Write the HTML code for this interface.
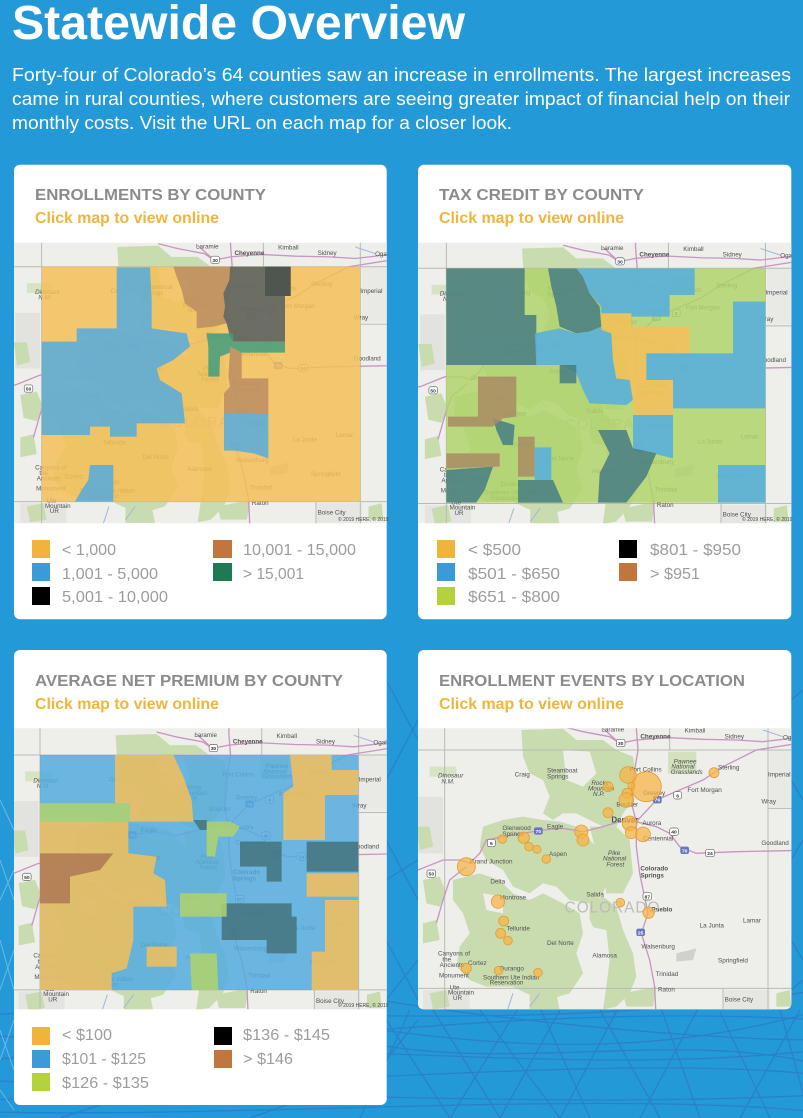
<!DOCTYPE html>
<html><head><meta charset="utf-8"><style>html,body{margin:0;padding:0;background:#2399d7;}svg{display:block}</style></head>
<body>
<svg width="803" height="1118" viewBox="0 0 803 1118" xmlns="http://www.w3.org/2000/svg" xmlns:xlink="http://www.w3.org/1999/xlink" font-family="'Liberation Sans', sans-serif">
<defs>
<clipPath id="c1"><rect x="14" y="242.7" width="372.7" height="280.6"/></clipPath>
<clipPath id="c2"><rect x="418" y="242.7" width="373.3" height="280.6"/></clipPath>
<clipPath id="c3"><rect x="14" y="728.3" width="372.7" height="281"/></clipPath>
<clipPath id="c4"><path d="M418,728.3 H791.3 V1003.3 Q791.3,1009.3 785.3,1009.3 H424 Q418,1009.3 418,1003.3 Z"/></clipPath>
<g id="base">
<rect x="-100" y="150" width="1400" height="1100" fill="#eeeeeb"/>
<path d="M45,470 H120 V640 H45 Z" fill="#e2e2df"/>
<path d="M60,1050 H200 V1110 H60 Z" fill="#e4e4e1"/>
<path d="M960,1050 H1100 V1110 H960Z" fill="#e6e6e3"/>
<path d="M1100,330 H1200 V500 H1100Z" fill="#e9e9e6"/>
<g fill="#c9dcb0">
<path d="M355,270 L480,266 L520,300 L600,300 L640,330 L690,350 L700,420 L690,480 L660,520 L640,560 L600,560 L560,540 L520,520 L480,520 L450,540 L420,520 L440,470 L420,420 L380,400 L360,350 Z"/>
<path d="M240,560 L300,540 L360,530 L420,540 L470,545 L520,560 L560,600 L600,640 L620,700 L600,760 L560,790 L500,780 L460,740 L420,730 L380,760 L330,740 L300,690 L250,660 L230,620 Z"/>
<path d="M560,560 L640,560 L680,600 L690,700 L660,760 L610,760 L600,700 L580,640 Z"/>
<path d="M150,720 L230,700 L290,720 L330,760 L380,780 L420,760 L480,790 L530,820 L540,880 L520,940 L540,1000 L500,1060 L430,1080 L370,1060 L330,1040 L250,1040 L200,1020 L160,980 L170,920 L200,880 L180,820 L150,780 Z"/>
<path d="M560,780 L600,770 L640,800 L660,870 L690,940 L700,1010 L680,1060 L640,1100 L600,1108 L610,1040 L620,960 L590,900 L560,840 Z"/>
<path d="M60,720 L110,710 L130,760 L110,800 L70,790 Z"/>
<path d="M80,1060 L130,1050 L140,1100 L90,1108 Z"/>
<path d="M380,1050 L460,1060 L470,1110 L380,1110 Z"/>
<path d="M660,1060 L760,1040 L750,1100 L670,1100 Z"/>
<path d="M80,380 L160,380 L160,410 L80,410 Z" fill="#d6e4c4"/>
<path d="M40,560 L80,560 L90,620 L50,630 Z"/>
<path d="M60,850 L100,840 L110,900 L60,910 Z"/>
<path d="M795,335 H880 V400 H795 Z" fill="#d2e2bc"/>
<path d="M1120,1060 L1160,1050 L1165,1100 L1120,1100Z"/>
</g>
<g fill="#eeeeeb">
<path d="M480,330 L560,335 L580,400 L540,440 L490,420 Z"/>
<path d="M240,760 L300,770 L300,820 L250,810 Z"/>
<path d="M560,860 L610,870 L620,960 L590,1030 L550,1010 L545,900 Z"/>
</g>
<path d="M820,940 L880,925 L870,960 L820,965 Z" fill="#d0d0cd"/>
<g fill="none" stroke="#b9b9b6" stroke-width="3">
<path d="M125,150 V1200 M1095,150 V1200 M-100,330 H1300 M-100,1045 H1300 M800,150 V330 M960,1045 V1200 M1095,505 H1300"/>
</g>
<g fill="none" stroke="#c796c2" stroke-width="4">
<path d="M700,200 L700,265 L705,330 L690,420 L688,500 L700,545 L700,620 L710,700 L735,820 L715,880 L740,960 L755,1040 L760,1150"/>
<path d="M-50,700 L45,690 L120,660 L170,660 L200,670 L230,640 L250,600 L300,590 L360,580 L420,570 L480,565 L540,575 L600,560 L650,545 L700,545 L760,560 L800,580 L830,620 L880,640 L1000,635 L1250,630"/>
<path d="M700,545 L760,480 L830,450 L900,420 L960,380 L1060,330 L1250,300"/>
<path d="M480,260 L540,275 L620,290 L650,310 L700,300 L760,295 L800,293 L900,298 L1000,300 L1080,305 L1250,285"/>
<path d="M600,265 L650,310"/>
<path d="M190,680 L140,720 L120,780 L100,850"/>
</g>
<g fill="none" stroke="#9fb7d8" stroke-width="3">
<path d="M330,1060 L310,1120 M410,1060 L380,1100"/>
<path d="M1080,270 L1140,290"/>
</g>
<g font-size="19" fill="#505050">
<text x="595" y="275">Laramie</text>
<text x="712" y="295" font-weight="bold">Cheyenne</text>
<text x="845" y="278">Kimball</text>
<text x="965" y="295">Sidney</text>
<text x="1140" y="298">Ogallala</text>
<text x="680" y="395">Fort Collins</text>
<text x="720" y="465">Greeley</text>
<text x="432" y="398">Steamboat</text>
<text x="432" y="416">Springs</text>
<text x="335" y="410">Craig</text>
<text x="640" y="500">Boulder</text>
<text x="625" y="548" font-size="24" font-weight="bold">Denver</text>
<text x="718" y="555">Aurora</text>
<text x="720" y="602">Centennial</text>
<text x="298" y="570">Glenwood</text>
<text x="298" y="588">Springs</text>
<text x="432" y="565">Eagle</text>
<text x="438" y="648">Aspen</text>
<text x="200" y="670">Grand Junction</text>
<text x="262" y="730">Delta</text>
<text x="290" y="778">Montrose</text>
<text x="310" y="872">Telluride</text>
<text x="290" y="992">Durango</text>
<text x="195" y="975">Cortez</text>
<text x="550" y="770">Salida</text>
<text x="712" y="692" font-weight="bold">Colorado</text>
<text x="712" y="712" font-weight="bold">Springs</text>
<text x="745" y="815" font-weight="bold">Pueblo</text>
<text x="890" y="862">La Junta</text>
<text x="1020" y="848">Lamar</text>
<text x="715" y="925">Walsenburg</text>
<text x="758" y="1008">Trinidad</text>
<text x="765" y="1055">Raton</text>
<text x="568" y="952">Alamosa</text>
<text x="432" y="915">Del Norte</text>
<text x="945" y="967">Springfield</text>
<text x="965" y="1085">Boise City</text>
<text x="1075" y="615">Goodland</text>
<text x="1075" y="490">Wray</text>
<text x="1095" y="410">Imperial</text>
<text x="853" y="456">Fort Morgan</text>
<text x="945" y="388">Sterling</text>
<text x="565" y="435" font-style="italic">Rocky</text>
<text x="555" y="452" font-style="italic">Mountain</text>
<text x="570" y="468" font-style="italic">N.P.</text>
<text x="615" y="645" font-style="italic">Pike</text>
<text x="600" y="662" font-style="italic">National</text>
<text x="610" y="679" font-style="italic">Forest</text>
<text x="812" y="370" font-style="italic">Pawnee</text>
<text x="805" y="386" font-style="italic">National</text>
<text x="803" y="402" font-style="italic">Grasslands</text>
<text x="105" y="413" font-style="italic">Dinosaur</text>
<text x="115" y="430" font-style="italic">N.M.</text>
<text x="105" y="947">Canyons of</text>
<text x="118" y="964">the</text>
<text x="110" y="981">Ancients</text>
<text x="108" y="1012">Monument</text>
<text x="240" y="1018">Southern Ute Indian</text>
<text x="260" y="1034">Reservation</text>
<text x="140" y="1048">Ute</text>
<text x="135" y="1064">Mountain</text>
<text x="150" y="1080">UR</text>
</g>
<text x="485" y="818" font-size="46" fill="#bcbcb9" letter-spacing="3">COLORADO</text>
<g font-size="15" font-weight="bold" text-anchor="middle">
<rect x="640" y="298" width="26" height="22" rx="6" fill="#fff" stroke="#666" stroke-width="2"/><text x="653" y="315" fill="#333">30</text>
<rect x="750" y="468" width="26" height="22" rx="6" fill="#6b74c0"/><text x="763" y="485" fill="#fff">76</text>
<rect x="812" y="455" width="24" height="22" rx="6" fill="#fff" stroke="#666" stroke-width="2"/><text x="824" y="472" fill="#333">6</text>
<rect x="800" y="564" width="26" height="22" rx="6" fill="#fff" stroke="#666" stroke-width="2"/><text x="813" y="581" fill="#333">40</text>
<rect x="832" y="620" width="26" height="22" rx="6" fill="#6b74c0"/><text x="845" y="637" fill="#fff">70</text>
<rect x="908" y="628" width="26" height="22" rx="6" fill="#fff" stroke="#666" stroke-width="2"/><text x="921" y="645" fill="#333">24</text>
<rect x="253" y="598" width="24" height="22" rx="6" fill="#fff" stroke="#666" stroke-width="2"/><text x="265" y="615" fill="#333">6</text>
<rect x="393" y="562" width="26" height="22" rx="6" fill="#6b74c0"/><text x="406" y="579" fill="#fff">70</text>
<rect x="720" y="758" width="26" height="22" rx="6" fill="#fff" stroke="#666" stroke-width="2"/><text x="733" y="775" fill="#333">87</text>
<rect x="700" y="866" width="26" height="22" rx="6" fill="#6b74c0"/><text x="713" y="883" fill="#fff">25</text>
<rect x="72" y="690" width="26" height="22" rx="6" fill="#fff" stroke="#666" stroke-width="2"/><text x="85" y="707" fill="#333">50</text>
</g>
</g>
</defs>

<!-- background -->
<rect x="0" y="0" width="803" height="1118" fill="#2399d7"/>
<g fill="none" stroke="#2f72c0" stroke-width="1.3" opacity="0.6">
<path d="M-10,1015 C200,1000 500,1040 820,990"/>
<path d="M-10,1035 C250,1060 500,1000 820,1020"/>
<path d="M-10,1060 C300,1030 550,1080 820,1050"/>
<path d="M-10,1080 C200,1100 600,1050 820,1075"/>
<path d="M-10,1100 C300,1085 500,1110 820,1095"/>
<path d="M-10,1112 C250,1118 600,1090 820,1112"/>
<path d="M380,1030 C500,1045 650,1060 820,1010"/>
<path d="M380,1000 C500,1020 700,1040 820,1040"/>
<path d="M380,1045 C520,1070 690,1030 820,1065"/>
<path d="M380,1010 L450,1118 M430,1005 L500,1118 M480,1010 L560,1118 M540,1008 L590,1118 M600,1010 L660,1118 M660,1005 L700,1118 M720,1012 L770,1118 M780,1010 L810,1118"/>
<path d="M520,1005 L450,1118 M620,1005 L560,1118 M700,1005 L640,1118 M800,1010 L740,1118 M410,1010 L360,1118 M300,1100 L250,1118 M100,1105 L60,1118 M560,1010 L500,1118"/>
<path d="M386,680 L418,740 M386,780 L418,720 M386,880 L418,860 M386,940 L418,1000 M386,1000 L418,960 M386,840 L418,900 M386,1060 L418,1020"/>
<path d="M791,700 L803,690 M791,780 L803,800 M791,860 L803,840 M791,940 L803,960 M791,990 L803,980"/>
</g>
<g fill="none" stroke="#a9d2f0" stroke-width="1" opacity="0.55">
<path d="M0,860 L14,900 M0,900 L14,870 M0,940 L14,990 M0,990 L14,950 M0,1030 L14,1070 M0,1060 L14,1020 M0,1090 L14,1110 M0,800 L14,830"/>
</g>

<!-- cards -->
<g fill="#ffffff">
<rect x="14" y="164.7" width="372.7" height="454.6" rx="6"/>
<rect x="418" y="164.7" width="373.3" height="454.6" rx="6"/>
<rect x="14" y="650" width="372.7" height="455" rx="6"/>
<rect x="418" y="650" width="373.3" height="359.3" rx="6"/>
</g>

<!-- Map 1: enrollments -->
<g clip-path="url(#c1)">
<use xlink:href="#base" href="#base" transform="translate(0.6,158.3) scale(0.3285)"/>
<g transform="translate(0,160) scale(0.333333)" fill-opacity="0.85">
<rect x="125" y="320" width="955" height="705" fill="#f5bf58"/>
<polygon fill="#54abdf" points="125,545 230,545 230,505 350,505 350,322 450,322 455,420 455,505 560,520 570,560 520,600 470,625 480,660 545,700 555,790 410,790 410,830 330,830 330,800 270,800 270,825 125,825"/>
<polygon fill="#54abdf" points="270,915 340,915 340,1025 225,1025 245,990 265,960"/>
<polygon fill="#54abdf" points="672,762 805,762 805,895 760,880 705,872 672,872"/>
<polygon fill="#ba8d62" points="520,320 690,320 688,360 670,400 675,440 670,470 680,490 640,500 590,505 590,455 555,430 545,390 530,350"/>
<polygon fill="#ba8d62" points="690,560 725,578 725,655 805,655 805,762 672,762 672,700 690,680 685,650 690,578"/>
<polygon fill="#545d62" points="690,320 872,320 872,408 855,408 855,545 700,545 690,530 680,490 670,470 675,440 670,400 688,360"/>
<rect x="795" y="320" width="77" height="88" fill="#4a524d"/>
<polygon fill="#409d7f" points="620,520 700,520 700,545 855,545 855,578 725,578 690,560 690,578 660,590 658,650 625,650 625,560"/>
</g>
</g>

<!-- Map 2: tax credit -->
<g clip-path="url(#c2)">
<use xlink:href="#base" href="#base" transform="translate(405.2,159.7) scale(0.329)"/>
<g transform="translate(403,160) scale(0.333333)" fill-opacity="0.85">
<rect x="130" y="325" width="957" height="703" fill="#b0d36b"/>
<polygon fill="#467c82" points="130,325 365,325 365,465 400,465 400,615 130,615"/>
<polygon fill="#467c82" points="435,325 520,325 540,350 560,400 590,440 595,500 560,515 520,520 470,500 460,440 445,380"/>
<polygon fill="#53aee0" points="520,325 875,325 875,405 800,405 800,470 685,470 685,460 595,460 595,440 560,400 540,350"/>
<polygon fill="#53aee0" points="395,520 470,505 520,520 560,515 595,500 625,520 630,600 640,655 680,660 690,720 670,735 560,730 540,690 520,640 480,615 400,615"/>
<polygon fill="#f5bf58" points="595,460 685,460 685,500 860,500 860,580 730,580 730,660 810,660 810,765 690,765 690,720 680,660 640,655 630,600 625,520 595,510"/>
<polygon fill="#53aee0" points="730,580 990,580 990,425 1087,425 1087,745 810,745 810,660 730,660"/>
<polygon fill="#53aee0" points="690,765 810,765 810,895 750,880 690,870"/>
<rect x="945" y="915" width="142" height="113" fill="#53aee0"/>
<rect x="395" y="862" width="50" height="98" fill="#53aee0"/>
<polygon fill="#467c82" points="585,810 670,810 690,865 760,880 730,950 670,1028 585,1028 590,940 620,880"/>
<rect x="470" y="615" width="50" height="55" fill="#467c82"/>
<polygon fill="#467c82" points="130,930 270,920 245,990 220,1028 130,1028"/>
<polygon fill="#467c82" points="270,775 335,795 330,855 300,855 280,810"/>
<polygon fill="#467c82" points="345,960 450,960 480,1028 345,1028"/>
<polygon fill="#a98b64" points="225,650 340,650 340,770 300,775 270,800 135,800 135,770 225,770"/>
<rect x="345" y="830" width="50" height="120" fill="#a98b64"/>
<polygon fill="#a98b64" points="130,880 290,880 290,920 130,925"/>
</g>
</g>

<!-- Map 3: net premium -->
<g clip-path="url(#c3)">
<use xlink:href="#base" href="#base" transform="translate(-1.06,646.6) scale(0.3285)"/>
<g transform="translate(0,640) scale(0.333333)" fill-opacity="0.85">
<rect x="120" y="345" width="955" height="705" fill="#54abdf"/>
<polygon fill="#f5bf58" points="345,345 520,345 550,410 575,480 580,545 390,545 390,490 345,490"/>
<rect x="120" y="490" width="270" height="55" fill="#b0d36b"/>
<polygon fill="#f5bf58" points="120,545 385,545 385,640 470,650 460,700 495,720 500,800 400,800 400,900 380,985 335,1000 335,1050 120,1050"/>
<polygon fill="#ae7853" points="120,640 340,640 300,690 210,710 210,790 120,790"/>
<rect x="440" y="920" width="90" height="60" fill="#f5bf58"/>
<polygon fill="#f5bf58" points="870,345 995,345 995,390 1075,390 1075,465 975,465 975,600 850,600 850,460 880,440"/>
<rect x="920" y="700" width="155" height="70" fill="#f5bf58"/>
<polygon fill="#f5bf58" points="975,780 1075,780 1075,1050 935,1050 935,935 975,935"/>
<polygon fill="#44737b" points="720,605 845,605 845,725 800,725 800,680 720,680"/>
<rect x="920" y="605" width="155" height="90" fill="#44737b"/>
<polygon fill="#44737b" points="665,790 875,790 875,830 890,830 890,940 800,940 800,900 665,900"/>
<polygon fill="#b0d36b" points="620,545 690,545 720,560 700,590 655,590 645,650 620,650"/>
<rect x="540" y="760" width="140" height="70" fill="#b0d36b"/>
<polygon fill="#b0d36b" points="570,940 650,940 655,1050 575,1050"/>
<polygon fill="#44737b" points="580,540 620,540 620,570 600,570"/>
</g>
</g>

<!-- Map 4: events -->
<g clip-path="url(#c4)">
<use xlink:href="#base" href="#base" transform="translate(403,640) scale(0.333333)"/>
<g transform="translate(403,640) scale(0.333333)" fill="#f6b443" fill-opacity="0.72" stroke="#e59f30" stroke-width="2.5">
<circle cx="730" cy="440" r="45"/>
<circle cx="675" cy="405" r="25"/>
<circle cx="685" cy="437" r="10"/>
<circle cx="672" cy="460" r="15"/>
<circle cx="670" cy="480" r="22"/>
<circle cx="615" cy="440" r="15"/>
<circle cx="615" cy="518" r="15"/>
<circle cx="933" cy="398" r="15"/>
<circle cx="680" cy="550" r="22"/>
<circle cx="685" cy="578" r="18"/>
<circle cx="720" cy="583" r="22"/>
<circle cx="535" cy="575" r="20"/>
<circle cx="540" cy="600" r="18"/>
<circle cx="298" cy="597" r="13"/>
<circle cx="362" cy="593" r="17"/>
<circle cx="378" cy="620" r="13"/>
<circle cx="402" cy="628" r="12"/>
<circle cx="430" cy="657" r="13"/>
<circle cx="190" cy="680" r="27"/>
<circle cx="285" cy="785" r="20"/>
<circle cx="302" cy="843" r="15"/>
<circle cx="293" cy="880" r="15"/>
<circle cx="315" cy="902" r="13"/>
<circle cx="652" cy="788" r="13"/>
<circle cx="737" cy="818" r="17"/>
<circle cx="190" cy="985" r="15"/>
<circle cx="287" cy="992" r="13"/>
<circle cx="405" cy="998" r="13"/>
</g>
</g>

<!-- Header text -->
<text x="12" y="39" font-size="48" font-weight="bold" fill="#ffffff" textLength="453" lengthAdjust="spacingAndGlyphs">Statewide Overview</text>
<g font-size="18" fill="#ffffff">
<text x="12" y="81" textLength="779" lengthAdjust="spacingAndGlyphs">Forty-four of Colorado’s 64 counties saw an increase in enrollments. The largest increases</text>
<text x="12" y="105" textLength="778" lengthAdjust="spacingAndGlyphs">came in rural counties, where customers are seeing greater impact of financial help on their</text>
<text x="12" y="129" textLength="500" lengthAdjust="spacingAndGlyphs">monthly costs. Visit the URL on each map for a closer look.</text>
</g>

<!-- Card titles -->
<g font-size="16" font-weight="bold" fill="#8b8b8b">
<text x="35" y="200" textLength="231" lengthAdjust="spacingAndGlyphs">ENROLLMENTS BY COUNTY</text>
<text x="439" y="200" textLength="205" lengthAdjust="spacingAndGlyphs">TAX CREDIT BY COUNTY</text>
<text x="35" y="686" textLength="308" lengthAdjust="spacingAndGlyphs">AVERAGE NET PREMIUM BY COUNTY</text>
<text x="439" y="686" textLength="306" lengthAdjust="spacingAndGlyphs">ENROLLMENT EVENTS BY LOCATION</text>
</g>
<g font-size="16" font-weight="bold" fill="#efb53d">
<text x="35" y="223" textLength="184" lengthAdjust="spacingAndGlyphs">Click map to view online</text>
<text x="439" y="223" textLength="185" lengthAdjust="spacingAndGlyphs">Click map to view online</text>
<text x="35" y="709" textLength="184" lengthAdjust="spacingAndGlyphs">Click map to view online</text>
<text x="439" y="709" textLength="185" lengthAdjust="spacingAndGlyphs">Click map to view online</text>
</g>

<!-- Legends -->
<rect x="32" y="540" width="18" height="18" fill="#f0b43c"/>
<rect x="32" y="563" width="18" height="18" fill="#3a9bd8"/>
<rect x="32" y="587" width="18" height="18" fill="#000000"/>
<rect x="213" y="540" width="19" height="18" fill="#c0763c"/>
<rect x="213" y="563" width="19" height="18" fill="#1e7a55"/>

<rect x="437" y="540" width="18" height="18" fill="#f0b43c"/>
<rect x="437" y="563" width="18" height="18" fill="#3a9bd8"/>
<rect x="437" y="587" width="18" height="18" fill="#b4d23c"/>
<rect x="619" y="540" width="18" height="18" fill="#000000"/>
<rect x="619" y="563" width="18" height="18" fill="#c0763c"/>

<rect x="32" y="1027" width="18" height="18" fill="#f0b43c"/>
<rect x="32" y="1050" width="18" height="18" fill="#3a9bd8"/>
<rect x="32" y="1073" width="18" height="18" fill="#b4d23c"/>
<rect x="214" y="1027" width="18" height="18" fill="#000000"/>
<rect x="214" y="1050" width="18" height="18" fill="#c0763c"/>

<g font-size="16" fill="#9c9c9c">
<text x="62" y="555" textLength="54" lengthAdjust="spacingAndGlyphs">&lt; 1,000</text>
<text x="62" y="579" textLength="96" lengthAdjust="spacingAndGlyphs">1,001 - 5,000</text>
<text x="62" y="602" textLength="106" lengthAdjust="spacingAndGlyphs">5,001 - 10,000</text>
<text x="243" y="555" textLength="113" lengthAdjust="spacingAndGlyphs">10,001 - 15,000</text>
<text x="243" y="579" textLength="61" lengthAdjust="spacingAndGlyphs">&gt; 15,001</text>

<text x="468" y="555" textLength="53" lengthAdjust="spacingAndGlyphs">&lt; $500</text>
<text x="468" y="579" textLength="92" lengthAdjust="spacingAndGlyphs">$501 - $650</text>
<text x="468" y="602" textLength="92" lengthAdjust="spacingAndGlyphs">$651 - $800</text>
<text x="650" y="555" textLength="91" lengthAdjust="spacingAndGlyphs">$801 - $950</text>
<text x="650" y="579" textLength="50" lengthAdjust="spacingAndGlyphs">&gt; $951</text>

<text x="62" y="1040" textLength="50" lengthAdjust="spacingAndGlyphs">&lt; $100</text>
<text x="62" y="1064" textLength="84" lengthAdjust="spacingAndGlyphs">$101 - $125</text>
<text x="62" y="1088" textLength="87" lengthAdjust="spacingAndGlyphs">$126 - $135</text>
<text x="243" y="1040" textLength="87" lengthAdjust="spacingAndGlyphs">$136 - $145</text>
<text x="243" y="1064" textLength="50" lengthAdjust="spacingAndGlyphs">&gt; $146</text>
</g>

<!-- map credits -->
<g font-size="5" fill="#444">
<text x="338" y="521">© 2019 HERE, © 2019</text>
<text x="742" y="521">© 2019 HERE, © 2019</text>
<text x="338" y="1007">© 2019 HERE, © 2019</text>
</g>
</svg>
</body></html>
